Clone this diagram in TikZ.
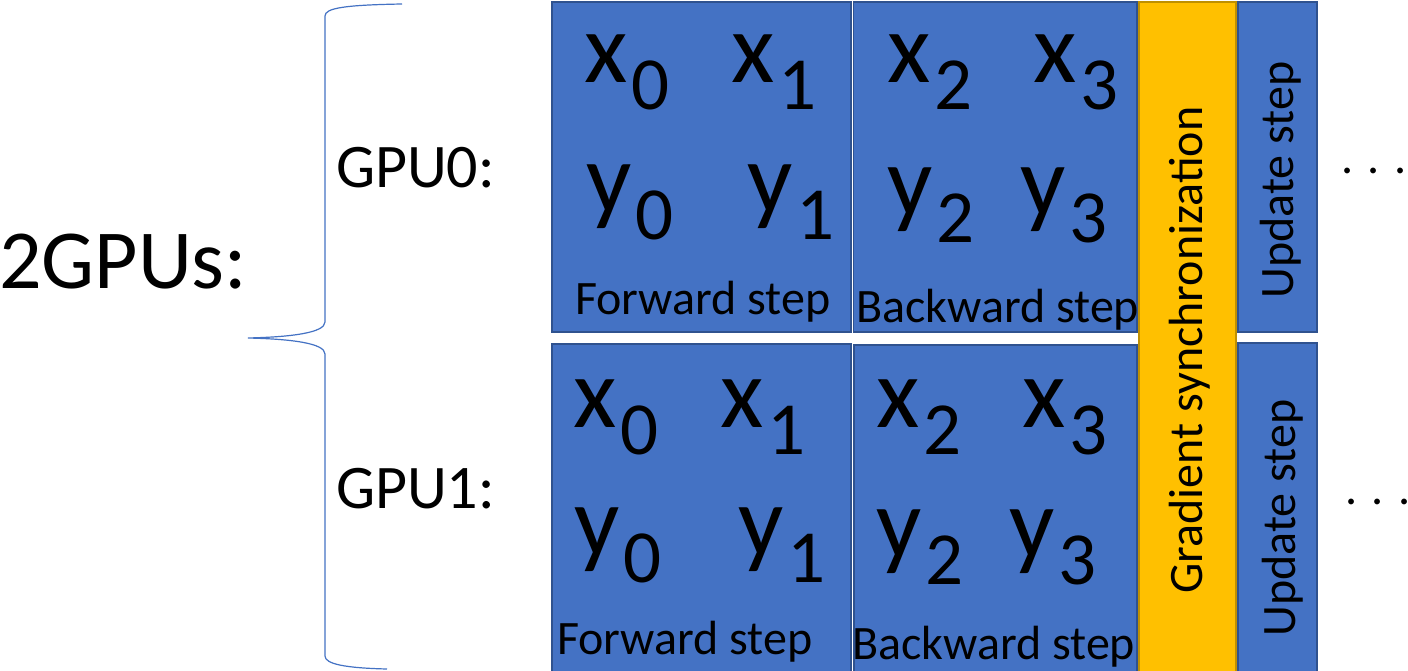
\documentclass[tikz,border=0pt]{standalone}
\usepackage{fontspec}
\setmainfont{Carlito}
\definecolor{boxblue}{HTML}{4472C4}
\definecolor{boxedge}{HTML}{2F528F}
\definecolor{syncgold}{HTML}{FFC000}
\definecolor{syncedge}{HTML}{BF9000}
\newcommand{\fsz}[1]{\fontsize{#1}{#1}\selectfont}
% a sample variable with its lowered index, e.g. x_0
\newcommand{\sample}[2]{\fsz{100}#1\kern4pt\raisebox{-27pt}{\fsz{75}#2}}
\tikzset{
  stage/.style={rectangle, draw=boxedge, fill=boxblue, line width=1.5pt, inner sep=0, outer sep=0},
  syncbox/.style={rectangle, draw=syncedge, fill=syncgold, line width=1.5pt, inner sep=0, outer sep=0},
  lbl/.style={inner sep=0, outer sep=0, anchor=base west, text=black},
  steplbl/.style={lbl, font=\fsz{48}},
  vlbl/.style={inner sep=0, outer sep=0, rotate=90, text=black, font=\fsz{48}},
  gpulbl/.style={lbl, font=\fsz{62}},
  dots/.style={lbl, font=\fsz{48}},
  bracepath/.style={draw=boxblue, line width=1.2pt}
}
\begin{document}
\begin{tikzpicture}[x=1pt, y=-1pt]
\useasboundingbox (0,0) rectangle (1408,671);
\clip (0,0) rectangle (1408,671);
\fill[white] (0,0) rectangle (1408,671);

% stage boxes, GPU0 row
\node[stage, minimum width=299pt, minimum height=330pt] (fwd0) at (701.5,167) {};
\node[stage, minimum width=283.5pt, minimum height=330pt] (bwd0) at (995.25,167) {};
\node[stage, minimum width=79pt, minimum height=330pt] (upd0) at (1277.5,167) {};
% stage boxes, GPU1 row
\node[stage, minimum width=299pt, minimum height=331pt] (fwd1) at (701.5,509.5) {};
\node[stage, minimum width=283pt, minimum height=330pt] (bwd1) at (995.5,510) {};
\node[stage, minimum width=79pt, minimum height=332pt] (upd1) at (1277.5,509) {};
% shared synchronization bar
\node[syncbox, minimum width=97pt, minimum height=673pt] (sync) at (1187.5,338.5) {};

% samples, GPU0
\node[lbl] (x0a) at (584,83) {\sample{x}{0}};
\node[lbl] (x1a) at (731,83) {\sample{x}{1}};
\node[lbl] (y0a) at (586,213) {\sample{y}{0}};
\node[lbl] (y1a) at (747,213) {\sample{y}{1}};
\node[lbl] (x2a) at (887,83) {\sample{x}{2}};
\node[lbl] (x3a) at (1033,83) {\sample{x}{3}};
\node[lbl] (y2a) at (887,215) {\sample{y}{2}};
\node[lbl] (y3a) at (1020,215) {\sample{y}{3}};
% samples, GPU1
\node[lbl] (x0b) at (573,427) {\sample{x}{0}};
\node[lbl] (x1b) at (720,427) {\sample{x}{1}};
\node[lbl] (y0b) at (574,555) {\sample{y}{0}};
\node[lbl] (y1b) at (738,555) {\sample{y}{1}};
\node[lbl] (x2b) at (876,427) {\sample{x}{2}};
\node[lbl] (x3b) at (1022,427) {\sample{x}{3}};
\node[lbl] (y2b) at (876,557) {\sample{y}{2}};
\node[lbl] (y3b) at (1009,557) {\sample{y}{3}};

% stage captions
\node[steplbl] (fwdl0) at (575,314) {Forward step};
\node[steplbl] (bwdl0) at (856,322) {Backward step};
\node[steplbl] (fwdl1) at (557,654) {Forward step};
\node[steplbl] (bwdl1) at (852,659) {Backward step};
\node[vlbl] (syncl) at (1190,350) {Gradient synchronization};
\node[vlbl] (updl0) at (1281,180) {Update step};
\node[vlbl] (updl1) at (1283,518) {Update step};

% continuation marks
\node[dots] (more0) at (1341,174) {. . .};
\node[dots] (more1) at (1345,504) {. . .};

% row labels
\node[gpulbl] (gpu0) at (336,188) {GPU0:};
\node[gpulbl] (gpu1) at (336,508) {GPU1:};
\node[lbl, font=\fsz{84}] (all) at (-1,288) {2GPUs:};

% curly brace grouping both GPUs
\draw[bracepath] (402,4) .. controls (345,5) and (325,8) .. (325,16)
  -- (325,322) .. controls (325,333) and (290,337) .. (248,338)
  .. controls (290,339) and (325,343) .. (325,354)
  -- (325,656) .. controls (325,664) and (345,668) .. (387,669);
\end{tikzpicture}
\end{document}
